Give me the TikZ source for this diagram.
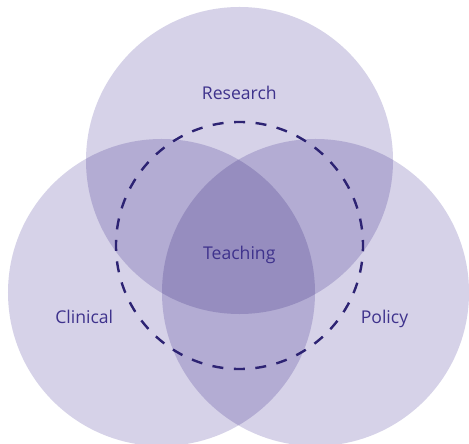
\documentclass[tikz,border=0pt]{standalone}
\usepackage{fontspec}
\setmainfont{Open Sans}
\definecolor{venn}{RGB}{214,210,232}
\definecolor{dashc}{RGB}{45,35,115}
\definecolor{txt}{RGB}{62,50,140}
\tikzset{
  venncircle/.style={circle, fill=venn, draw=none, minimum size=307bp, inner sep=0pt},
  lbl/.style={text=txt, font=\fontsize{17.6bp}{19bp}\selectfont, inner sep=0pt, anchor=base},
  dashring/.style={draw=dashc, line width=2.4bp, dash pattern=on 11bp off 10.55bp, dash phase=5.5bp}
}
\begin{document}
\begin{tikzpicture}[x=1bp,y=-1bp]
\useasboundingbox (0,0) rectangle (469,444);
\clip (0,0) rectangle (469,444);
\fill[white] (0,0) rectangle (469,444);
\begin{scope}[blend group=multiply]
  \node[venncircle] (research) at (239.5,160.5) {};
  \node[venncircle] (clinical) at (161.5,292.5) {};
  \node[venncircle] (policy) at (315.5,292.5) {};
\end{scope}
\draw[dashring] (239.5,245.5) circle[radius=123.5bp];
\node[lbl] (tR) at (239.3,99.3) {Research};
\node[lbl] (tT) at (239.3,259.3) {Teaching};
\node[lbl] (tC) at (84.2,323.3) {Clinical};
\node[lbl] (tP) at (384.5,323.3) {Policy};
\end{tikzpicture}
\end{document}
